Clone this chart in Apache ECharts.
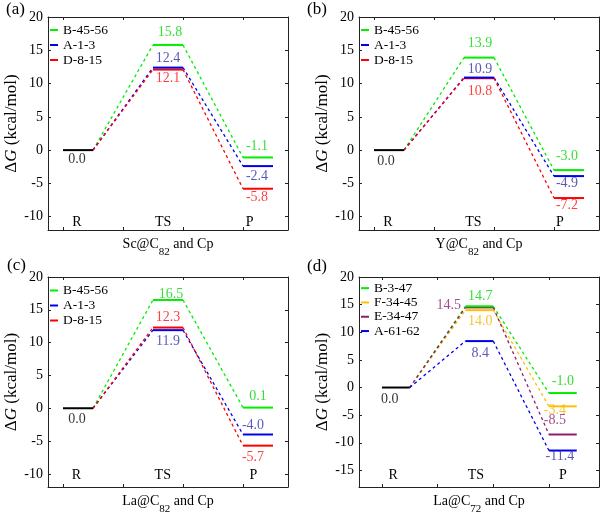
<!DOCTYPE html>
<html><head><meta charset="utf-8">
<script src="https://cdn.jsdelivr.net/npm/echarts@6/dist/echarts.min.js"></script>
<style>html,body{margin:0;padding:0;background:#fff}#c{width:602px;height:516px}</style>
</head><body><div id="c"></div>
<script>
// ---------------- data ----------------
const stageNames = ['R', 'TS', 'P'];
const panelTags = ['(a)', '(b)', '(c)', '(d)'];
const xTitleMain = ['Sc@C', 'Y@C', 'La@C', 'La@C'];
const xTitleSub = ['82', '82', '82', '72'];
const namesABC = ['B-45-56', 'A-1-3', 'D-8-15'];
const namesD = ['B-3-47', 'F-34-45', 'E-34-47', 'A-61-62'];
const reactantLevel = 0.0;
const tsA = [15.8, 12.4, 12.1];
const pA = [-1.1, -2.4, -5.8];
const tsB = [13.9, 10.9, 10.8];
const pB = [-3.0, -3.9, -7.2];
const pLabelB = ['-3.0', '-4.9', '-7.2'];
const tsC = [16.5, 11.9, 12.3];
const pC = [0.1, -4.0, -5.7];
const tsD = [14.7, 14.0, 14.5, 8.4];
const pD = [-1.0, -3.4, -8.5, -11.4];
const yTicksABC = [-10, -5, 0, 5, 10, 15, 20];
const yTicksD = [-15, -10, -5, 0, 5, 10, 15, 20];
const stageTicks = [1, 5, 9, 13];
const stageSpan = [[1, 3], [7, 9], [13, 15]];

// ---------------- style / layout ----------------
const FONT = 'Liberation Serif';
const fmt = v => v.toFixed(1);
const colABC = ['#00ee00', '#0000ee', '#ff0000'];
const txtABC = ['#00d800', '#3030a8', '#ff1010'];
const colD = ['#00ee00', '#ffc000', '#8b1f6e', '#0000ee'];
const txtD = ['#00d800', '#f2b800', '#8b1f6e', '#3030a8'];

const panels = [
  { names: namesABC, ts: tsA, p: pA, pLab: pA.map(fmt), cols: colABC, txt: txtABC,
    grid: { left: 48, top: 17, width: 240, height: 213 }, xr: [0, 16], yr: [-12, 20], yt: yTicksABC,
    stageX: [1.93, 7.67, 13.45], stageMargin: 1, yGap: 11,
    legend: { left: 50, top: 22.5, lh: 15 }, tag: [6, 1],
    tsOff: [[2, -13], [0, -9], [0, 9]], pOff: [[-1, -11], [-1, 10], [-1, 9]], rOff: [-1, 9] },
  { names: namesABC, ts: tsB, p: pB, pLab: pLabelB, cols: colABC, txt: txtABC,
    grid: { left: 359, top: 17, width: 240, height: 213 }, xr: [0, 16], yr: [-12, 20], yt: yTicksABC,
    stageX: [1.93, 7.62, 13.4], stageMargin: 1, yGap: 18,
    legend: { left: 361, top: 22.5, lh: 15 }, tag: [307, 1],
    tsOff: [[1, -14], [1, -8], [1, 13]], pOff: [[-2, -13.5], [-2, 7.5], [-2, 7.5]], rOff: [-3, 11] },
  { names: namesABC, ts: tsC, p: pC, pLab: pC.map(fmt), cols: colABC, txt: txtABC,
    grid: { left: 48, top: 277, width: 240, height: 213 }, xr: [0, 16], yr: [-12, 20], yt: yTicksABC,
    stageX: [1.9, 7.65, 13.7], stageMargin: 4.5, yGap: 11,
    legend: { left: 50, top: 283, lh: 15 }, tag: [7, 257],
    tsOff: [[3, -6], [0, 11], [0, -10.5]], pOff: [[0, -11], [-5, -9.6], [-5, 11.3]], rOff: [-1, 11] },
  { names: namesD, ts: tsD, p: pD, pLab: pD.map(fmt), cols: colD, txt: txtD,
    grid: { left: 359, top: 277, width: 240, height: 212 }, xr: [-0.65, 16.6], yr: [-18, 20], yt: yTicksD,
    stageX: [1.8, 7.75, 14.0], stageMargin: 4.5, yGap: 17,
    legend: { left: 361, top: 281, lh: 14.3 }, tag: [307, 258],
    tsOff: [[1, -10], [1, 11.5], [-30.5, -2.4], [1, 12]], pOff: [[0, -12], [-8, 4], [-8, -14], [-3, 5.5]], rOff: [-6, 11.7] }
];

const AX = '#222';
const grids = [], xAxes = [], yAxes = [], series = [], legends = [], graphics = [];

panels.forEach((P, i) => {
  grids.push(Object.assign({ containLabel: false }, P.grid));
  const tickStyle = { inside: true, length: 3, lineStyle: { color: AX, width: 1 } };
  xAxes.push({
    gridIndex: i, type: 'value', min: P.xr[0], max: P.xr[1], position: 'bottom',
    axisLine: { show: true, onZero: false, lineStyle: { color: AX, width: 1 } },
    axisTick: Object.assign({ customValues: stageTicks }, tickStyle),
    splitLine: { show: false },
    axisLabel: {
      show: true, inside: true, customValues: P.stageX, margin: P.stageMargin,
      formatter: v => { let b = 0, d = 1e9; P.stageX.forEach((s, k) => { if (Math.abs(s - v) < d) { d = Math.abs(s - v); b = k; } }); return stageNames[b]; },
      color: '#000', fontSize: 14, fontFamily: FONT
    },
    name: '{n|' + xTitleMain[i] + '}{s|' + xTitleSub[i] + '}{n| and Cp}',
    nameLocation: 'middle', nameGap: 0,
    nameTextStyle: {
      color: '#000', fontFamily: FONT, fontSize: 14,
      rich: {
        n: { fontFamily: FONT, fontSize: 14, color: '#000', lineHeight: 28, verticalAlign: 'middle' },
        s: { fontFamily: FONT, fontSize: 11, color: '#000', lineHeight: 28, verticalAlign: 'bottom' }
      }
    }
  });
  xAxes.push({
    gridIndex: i, type: 'value', min: P.xr[0], max: P.xr[1], position: 'top',
    axisLine: { show: true, onZero: false, lineStyle: { color: AX, width: 1 } },
    axisTick: Object.assign({ customValues: stageTicks }, tickStyle),
    splitLine: { show: false }, axisLabel: { show: false }
  });
  yAxes.push({
    gridIndex: i, type: 'value', min: P.yr[0], max: P.yr[1], position: 'left',
    axisLine: { show: true, onZero: false, lineStyle: { color: AX, width: 1 } },
    axisTick: Object.assign({ customValues: P.yt }, tickStyle),
    splitLine: { show: false },
    axisLabel: { show: true, customValues: P.yt, margin: 5, color: '#000', fontSize: 14, fontFamily: FONT },
    name: '{n|Δ}{i|G}{n| (kcal/mol)}', nameLocation: 'middle', nameGap: P.yGap, nameRotate: 90,
    nameTextStyle: {
      color: '#000', fontFamily: FONT, fontSize: 17,
      rich: {
        n: { fontFamily: FONT, fontSize: 17, color: '#000' },
        i: { fontFamily: FONT, fontSize: 17, color: '#000', fontStyle: 'italic' }
      }
    }
  });
  yAxes.push({
    gridIndex: i, type: 'value', min: P.yr[0], max: P.yr[1], position: 'right',
    axisLine: { show: true, onZero: false, lineStyle: { color: AX, width: 1 } },
    axisTick: Object.assign({ customValues: P.yt }, tickStyle),
    splitLine: { show: false }, axisLabel: { show: false }
  });

  const xi = 2 * i, yi = 2 * i;
  const base = { xAxisIndex: xi, yAxisIndex: yi, silent: true, animation: false };
  // dashed connectors
  P.names.forEach((nm, k) => {
    series.push(Object.assign({}, base, {
      type: 'line', name: nm + ' path1', symbol: 'none', z: 2,
      lineStyle: { color: P.cols[k], width: 1.3, type: [3, 3] },
      data: [[stageSpan[0][1], reactantLevel], [stageSpan[1][0], P.ts[k]]]
    }));
    series.push(Object.assign({}, base, {
      type: 'line', name: nm + ' path2', symbol: 'none', z: 2,
      lineStyle: { color: P.cols[k], width: 1.3, type: [3, 3] },
      data: [[stageSpan[1][1], P.ts[k]], [stageSpan[2][0], P.p[k]]]
    }));
  });
  // reactant level
  series.push(Object.assign({}, base, {
    type: 'line', name: 'R', symbol: 'none', z: 3,
    lineStyle: { color: '#000', width: 2 },
    data: [[stageSpan[0][0], reactantLevel], [stageSpan[0][1], reactantLevel]]
  }));
  // TS and P levels
  P.names.slice().reverse().forEach((nm, rk) => {
    const k = P.names.length - 1 - rk;
    series.push(Object.assign({}, base, {
      type: 'line', name: nm, symbol: 'none', z: 3, color: P.cols[k],
      lineStyle: { color: P.cols[k], width: 2 },
      data: [[stageSpan[1][0], P.ts[k]], [stageSpan[1][1], P.ts[k]]]
    }));
    series.push(Object.assign({}, base, {
      type: 'line', name: nm, symbol: 'none', z: 3, color: P.cols[k],
      lineStyle: { color: P.cols[k], width: 2 },
      data: [[stageSpan[2][0], P.p[k]], [stageSpan[2][1], P.p[k]]]
    }));
  });
  // value labels
  const labData = [];
  const mid = s => (s[0] + s[1]) / 2;
  labData.push({ value: [mid(stageSpan[0]), reactantLevel], label: { formatter: fmt(reactantLevel), color: '#000', offset: P.rOff } });
  P.names.forEach((nm, k) => {
    labData.push({ value: [mid(stageSpan[1]), P.ts[k]], label: { formatter: fmt(P.ts[k]), color: P.txt[k], offset: P.tsOff[k] } });
    labData.push({ value: [mid(stageSpan[2]), P.p[k]], label: { formatter: P.pLab[k], color: P.txt[k], offset: P.pOff[k] } });
  });
  series.push(Object.assign({}, base, {
    type: 'scatter', name: 'labels' + i, symbolSize: 0, z: 5,
    label: { show: true, position: 'inside', fontSize: 14, fontFamily: FONT },
    data: labData
  }));

  legends.push({
    orient: 'vertical', left: P.legend.left, top: P.legend.top, padding: 0, itemGap: 0,
    icon: 'rect', itemWidth: 8, itemHeight: 2, selectedMode: false,
    data: P.names,
    textStyle: { fontFamily: FONT, fontSize: 13.5, color: '#000', lineHeight: P.legend.lh }
  });
  graphics.push({
    type: 'text', left: P.tag[0], top: P.tag[1],
    style: { text: panelTags[i], fontSize: 17, fontFamily: FONT, fill: '#000' }
  });
});

const chart = echarts.init(document.getElementById('c'), null, { renderer: 'canvas' });
chart.setOption({
  animation: false,
  backgroundColor: '#fff',
  textStyle: { fontFamily: FONT },
  grid: grids, xAxis: xAxes, yAxis: yAxes, series: series, legend: legends, graphic: graphics
});
</script>
</body></html>
